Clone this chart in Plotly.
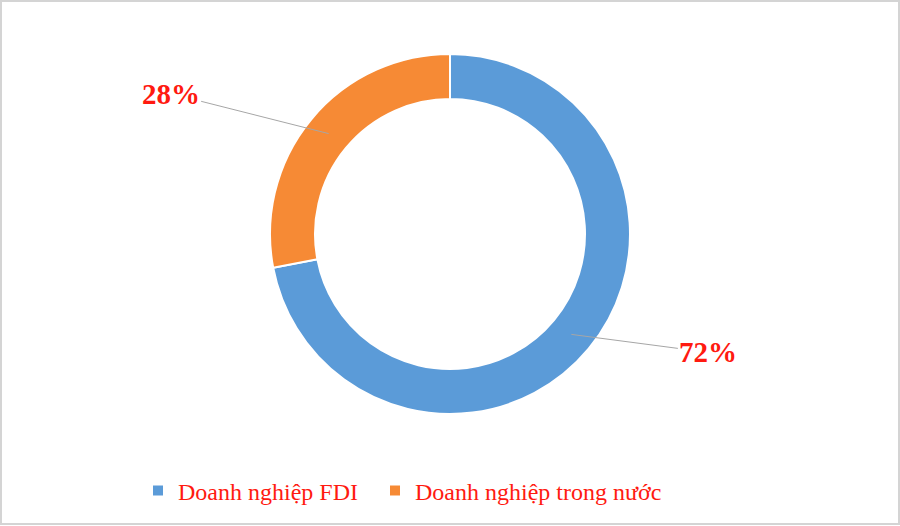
import math

import plotly.graph_objects as go

labels = ["Doanh nghiệp FDI", "Doanh nghiệp trong nước"]
values = [72, 28]
colors = ["#5b9bd8", "#f68a35"]

# label offsets (px) from the ring midpoint of each slice
label_offsets = {0: (137, 18), 1: (-158, -40)}

W, H = 900, 526
M_TOP, M_BOT = 54, 112
plot_h = H - M_TOP - M_BOT
radius = plot_h / 2
hole = 0.75

# a little extra room after the first legend entry, as in the original
legend_labels = [labels[0] + "\u2002"] + labels[1:]

fig = go.Figure(
    go.Pie(
        labels=legend_labels,
        values=values,
        hole=hole,
        sort=False,
        direction="clockwise",
        rotation=0,
        textinfo="none",
        hoverinfo="label+percent",
        marker=dict(colors=colors, line=dict(color="white", width=2)),
    )
)

# percentage labels with leader lines, placed from the slice angles
total = sum(values)
start = 0.0
mid_r = radius * (1 + hole) / 2
for i, v in enumerate(values):
    frac = v / total
    mid = (start + frac / 2) * 2 * math.pi
    start += frac
    px = mid_r * math.sin(mid)
    py = mid_r * math.cos(mid)
    ax, ay = label_offsets[i]
    fig.add_annotation(
        x=0.5 + px / W,
        y=0.5 + py / plot_h,
        xref="paper",
        yref="paper",
        text=f"{round(frac * 100)}%",
        showarrow=True,
        arrowhead=0,
        arrowwidth=1,
        arrowcolor="#a6a6a6",
        ax=ax,
        ay=ay,
        font=dict(family="Liberation Serif", size=29, color="#ff1a10", weight="bold"),
    )

fig.update_layout(
    width=W,
    height=H,
    margin=dict(l=0, r=0, t=M_TOP, b=M_BOT),
    paper_bgcolor="white",
    plot_bgcolor="white",
    showlegend=True,
    legend=dict(
        orientation="h",
        x=138 / W,
        xanchor="left",
        y=(M_BOT - 35) / -plot_h,
        yanchor="middle",
        font=dict(family="Liberation Serif", size=24, color="#ff1a10"),
        itemsizing="constant",
        traceorder="normal",
    ),
    shapes=[
        dict(
            type="rect",
            xref="paper",
            yref="paper",
            x0=1 / W,
            x1=1 - 1 / W,
            y0=-(M_BOT - 2) / plot_h,
            y1=1 + (M_TOP - 1) / plot_h,
            line=dict(color="#d4d4d4", width=2),
        )
    ],
)

fig.write_html(
    "out.html",
    config={"displayModeBar": False},
    post_script="document.body.style.margin='0';document.body.style.overflow='hidden';",
)
